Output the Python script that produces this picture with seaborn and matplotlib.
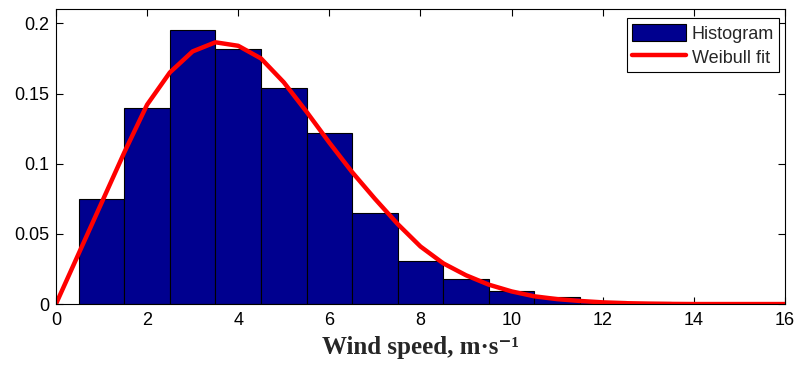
import pandas as pd
import matplotlib
matplotlib.use("Agg")
import matplotlib.pyplot as plt
import seaborn as sns
from matplotlib.patches import Patch
from matplotlib.lines import Line2D

# histogram bins (centre, relative frequency)
bin_centers = [1, 2, 3, 4, 5, 6, 7, 8, 9, 10, 11, 12, 13, 14]
bin_heights = [0.075, 0.140, 0.1955, 0.182, 0.154, 0.122, 0.065, 0.031,
               0.018, 0.0093, 0.005, 0.0025, 0.0012, 0.0005]

# weibull fit curve
fit_x = [0, 0.5, 1, 1.5, 2, 2.5, 3, 3.5, 4, 4.5, 5, 5.5, 6, 6.5, 7, 7.5,
         8, 8.5, 9, 9.5, 10, 10.5, 11, 11.5, 12, 12.5, 13, 13.5, 14, 15, 16]
fit_y = [0, 0.036, 0.072, 0.108, 0.142, 0.165, 0.180, 0.1865, 0.184, 0.175,
         0.158, 0.137, 0.115, 0.094, 0.075, 0.057, 0.041, 0.029, 0.0205,
         0.0138, 0.009, 0.0055, 0.0035, 0.0022, 0.0012, 0.0006, 0.0003,
         0.0001, 0.0, 0.0, 0.0]

x_ticks = [0, 2, 4, 6, 8, 10, 12, 14, 16]
y_ticks = [0, 0.05, 0.1, 0.15, 0.2]
y_tick_labels = ["0", "0.05", "0.1", "0.15", "0.2"]

hist_df = pd.DataFrame({"speed": bin_centers, "freq": bin_heights})

sns.set_style("ticks")
plt.rcParams["font.family"] = ["Liberation Sans", "DejaVu Sans"]

fig = plt.figure(figsize=(7.99, 3.65), dpi=100)
ax = fig.add_axes([0.070, 0.167, 0.9125, 0.8075])

bar_color = "#00008F"
sns.barplot(data=hist_df, x="speed", y="freq", native_scale=True, width=1,
            color=bar_color, saturation=1, edgecolor="black", linewidth=0.8,
            errorbar=None, ax=ax)
sns.lineplot(x=fit_x, y=fit_y, color="red", linewidth=3.2, ax=ax)

ax.set_xlim(0, 16)
ax.set_ylim(0, 0.21)
ax.set_xticks(x_ticks)
ax.set_xticklabels([str(t) for t in x_ticks])
ax.set_yticks(y_ticks)
ax.set_yticklabels(y_tick_labels)
ax.tick_params(direction="in", top=True, right=True, length=5,
               labelsize=13, width=0.8, colors="black")
ax.tick_params(axis="x", pad=6)
ax.tick_params(axis="y", pad=5)
for sp in ax.spines.values():
    sp.set_visible(True)
    sp.set_linewidth(0.8)
    sp.set_color("black")

ax.set_ylabel("")
ax.set_xlabel("Wind speed, m·s⁻¹", fontsize=18, fontweight="bold",
              family=["Liberation Serif", "DejaVu Serif"], labelpad=5)

handles = [Patch(facecolor=bar_color, edgecolor="black", linewidth=0.8),
           Line2D([0], [0], color="red", linewidth=3.2)]
leg = ax.legend(handles, ["Histogram", "Weibull fit"], loc="upper right",
                fontsize=13, frameon=True, fancybox=False,
                handlelength=3.0, handleheight=1.1, handletextpad=0.3,
                borderpad=0.3, labelspacing=0.3, borderaxespad=0,
                bbox_to_anchor=(0.9922, 0.9695))
leg.get_frame().set_edgecolor("black")
leg.get_frame().set_linewidth(0.8)
leg.get_frame().set_alpha(1)

fig.savefig("out.png", dpi=100)
